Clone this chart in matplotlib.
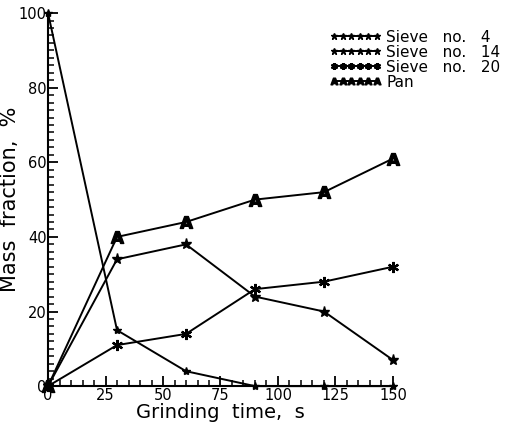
import numpy as np
import matplotlib
matplotlib.use("Agg")
import matplotlib.pyplot as plt
from matplotlib.ticker import MultipleLocator

# grinding time (s) and mass fraction (%) retained on each sieve
t = [0, 30, 60, 90, 120, 150]
sieve4 = [100, 15, 4, 0, 0, 0]
sieve14 = [0, 34, 38, 24, 20, 7]
sieve20 = [0, 11, 14, 26, 28, 32]
pan = [0, 40, 44, 50, 52, 61]

labels = ["Sieve   no.   4", "Sieve   no.   14", "Sieve   no.   20", "Pan"]

fig = plt.figure(figsize=(5.11, 4.22), dpi=100)
ax = fig.add_axes([0.094, 0.085, 0.675, 0.884])

style = dict(color="k", lw=1.4, clip_on=False)
ax.plot(t, sieve4, marker="*", ms=6, label=labels[0], **style)
ax.plot(t, sieve14, marker="*", ms=8, label=labels[1], **style)
ax.plot(t, sieve20, marker=(6, 2, 0), ms=8, mew=1.6, label=labels[2], **style)
ax.plot(t, pan, marker=r"$\mathbf{A}$", ms=9, label=labels[3], **style)

ax.set_xlim(0, 150)
ax.set_ylim(0, 100)
ax.spines["top"].set_visible(False)
ax.spines["right"].set_visible(False)
ax.spines["left"].set_linewidth(1.5)
ax.spines["bottom"].set_linewidth(1.5)

ax.xaxis.set_major_locator(MultipleLocator(25))
ax.xaxis.set_minor_locator(MultipleLocator(5))
ax.yaxis.set_major_locator(MultipleLocator(20))
ax.yaxis.set_minor_locator(MultipleLocator(2))
ax.tick_params(which="major", direction="in", length=7, width=1.3, labelsize=10.5, pad=1)
ax.tick_params(which="minor", direction="in", length=4, width=1.1)

ax.set_xlabel("Grinding  time,  s", fontsize=14, labelpad=0.5)
ax.set_ylabel("Mass  fraction,  %", fontsize=15, labelpad=-1)

leg = fig.legend(loc="upper left", bbox_to_anchor=(0.645, 0.93), frameon=False,
                 numpoints=6, handlelength=3.4, handletextpad=0.3,
                 labelspacing=0.0, fontsize=11, borderaxespad=0, borderpad=0)
for h in leg.legend_handles:
    h.set_markersize(5)

fig.savefig("out.png", dpi=100)
